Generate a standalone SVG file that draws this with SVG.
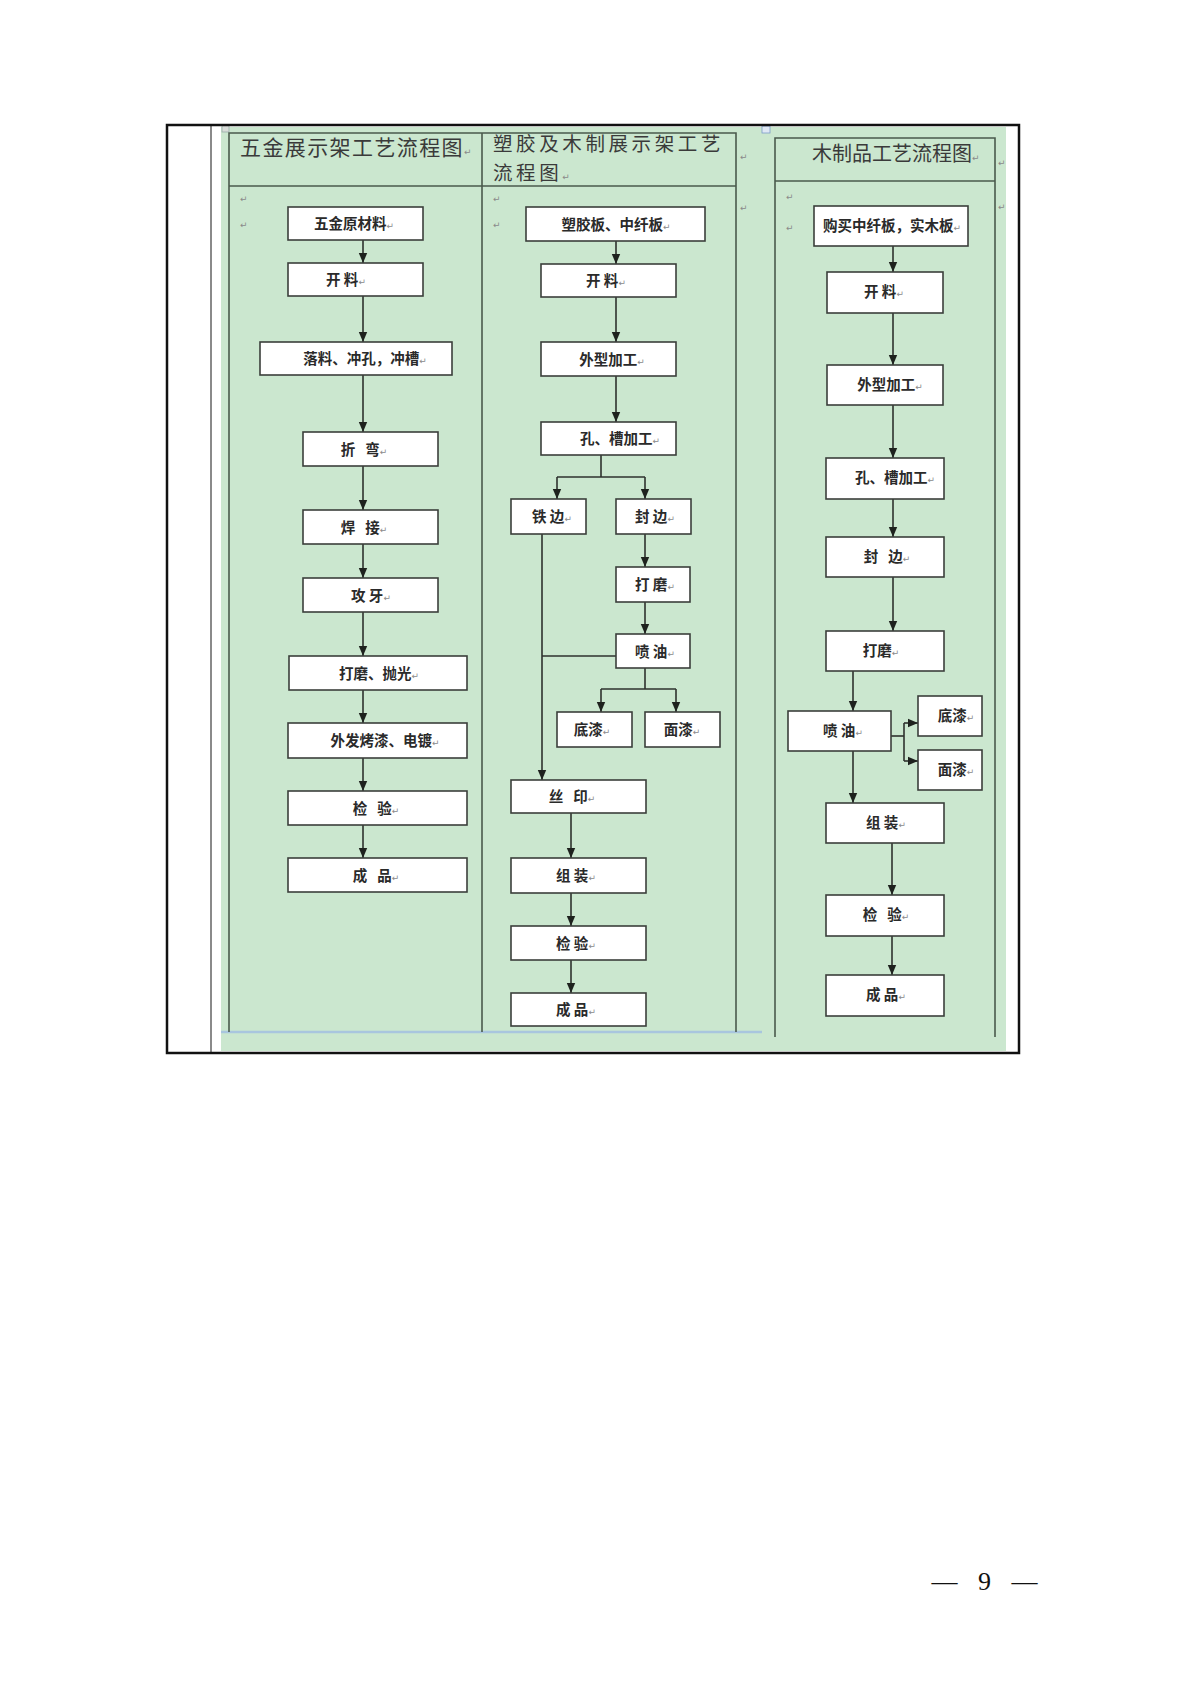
<svg xmlns="http://www.w3.org/2000/svg" width="1190" height="1683" viewBox="0 0 1190 1683">
<style>
.box{fill:#ffffff;stroke:#3b3f3b;stroke-width:1.6}
.t{font-family:"Noto Sans CJK SC","Noto Sans CJK JP",sans-serif;font-size:14.5px;font-weight:bold;fill:#2a2a2a;text-anchor:middle}
.h{font-family:"Noto Sans CJK SC","Noto Sans CJK JP",sans-serif;font-size:21px;fill:#3a3a3a}
.pm{font-family:"DejaVu Sans",sans-serif;font-size:9px;font-weight:normal;fill:#8a8a8a;letter-spacing:0}
.tl{stroke:#4a5a4c;stroke-width:1.6;fill:none}
.c{stroke:#2e322e;stroke-width:1.6;fill:none}
.ca{stroke:#2e322e;stroke-width:1.6;fill:none;marker-end:url(#ah)}
</style>
<defs>
<marker id="ah" markerUnits="userSpaceOnUse" markerWidth="10" markerHeight="10" viewBox="0 0 10 10" refX="10" refY="5" orient="auto">
<path d="M0,0.8 L10,5 L0,9.2 Z" fill="#1e221e"/>
</marker>
</defs>
<rect width="1190" height="1683" fill="#ffffff"/>
<g id="frame">
<rect x="221" y="127" width="785" height="924" fill="#cbe7cf"/>
<line x1="221" y1="1032" x2="762" y2="1032" stroke="#a9c6de" stroke-width="2.5"/>
<rect x="222" y="125" width="7" height="7" fill="#d8dcd8" stroke="#9aa" stroke-width="0.8"/>
<rect x="762" y="126" width="8" height="7" fill="#dfe8f4" stroke="#7a9cc8" stroke-width="0.8"/>
<line x1="211" y1="125" x2="211" y2="1053" stroke="#8a8a8a" stroke-width="2"/>
<rect x="167" y="125" width="852" height="928" fill="none" stroke="#111" stroke-width="2.5"/>
<polyline class="tl" points="229,1032 229,133 736,133 736,1032"/>
<line class="tl" x1="229" y1="186" x2="736" y2="186"/>
<line class="tl" x1="482" y1="133" x2="482" y2="1032"/>
<polyline class="tl" points="775,1037 775,138 995,138 995,1037"/>
<line class="tl" x1="775" y1="181" x2="995" y2="181"/>
</g>
<g id="headers">
<text class="h" x="240" y="155" letter-spacing="1.4">五金展示架工艺流程图<tspan class="pm">↵</tspan></text>
<text class="h" x="493" y="151" style="font-size:19.5px" letter-spacing="3.6">塑胶及木制展示架工艺</text>
<text class="h" x="493" y="179.5" style="font-size:19.5px" letter-spacing="3.6">流程图<tspan class="pm">↵</tspan></text>
<text class="h" x="812" y="161" style="font-size:20px">木制品工艺流程图<tspan class="pm">↵</tspan></text>
<text class="pm" x="240" y="202">↵</text>
<text class="pm" x="240" y="228">↵</text>
<text class="pm" x="493" y="202">↵</text>
<text class="pm" x="493" y="228">↵</text>
<text class="pm" x="740" y="160">↵</text>
<text class="pm" x="740" y="211">↵</text>
<text class="pm" x="786" y="200">↵</text>
<text class="pm" x="786" y="231">↵</text>
<text class="pm" x="998" y="166">↵</text>
<text class="pm" x="998" y="210">↵</text>
</g>
<g id="connectors">
<line class="ca" x1="363" y1="240" x2="363" y2="263"/>
<line class="ca" x1="363" y1="296" x2="363" y2="342"/>
<line class="ca" x1="363" y1="375" x2="363" y2="432"/>
<line class="ca" x1="363" y1="466" x2="363" y2="510"/>
<line class="ca" x1="363" y1="544" x2="363" y2="578"/>
<line class="ca" x1="363" y1="612" x2="363" y2="656"/>
<line class="ca" x1="363" y1="690" x2="363" y2="723"/>
<line class="ca" x1="363" y1="758" x2="363" y2="791"/>
<line class="ca" x1="363" y1="825" x2="363" y2="858"/>
<line class="ca" x1="616" y1="241" x2="616" y2="264"/>
<line class="ca" x1="616" y1="297" x2="616" y2="342"/>
<line class="ca" x1="616" y1="376" x2="616" y2="422"/>
<line class="c" x1="601" y1="455" x2="601" y2="477"/>
<line class="c" x1="557" y1="477" x2="645" y2="477"/>
<line class="ca" x1="557" y1="477" x2="557" y2="499"/>
<line class="ca" x1="645" y1="477" x2="645" y2="499"/>
<line class="ca" x1="645" y1="534" x2="645" y2="567"/>
<line class="ca" x1="645" y1="602" x2="645" y2="634"/>
<line class="c" x1="645" y1="668" x2="645" y2="689"/>
<line class="c" x1="601" y1="689" x2="676" y2="689"/>
<line class="ca" x1="601" y1="689" x2="601" y2="712"/>
<line class="ca" x1="676" y1="689" x2="676" y2="712"/>
<line class="ca" x1="542" y1="534" x2="542" y2="780"/>
<line class="c" x1="542" y1="656" x2="616" y2="656"/>
<line class="ca" x1="571" y1="813" x2="571" y2="858"/>
<line class="ca" x1="571" y1="893" x2="571" y2="926"/>
<line class="ca" x1="571" y1="960" x2="571" y2="993"/>
<line class="ca" x1="893" y1="246" x2="893" y2="272"/>
<line class="ca" x1="893" y1="313" x2="893" y2="365"/>
<line class="ca" x1="893" y1="405" x2="893" y2="458"/>
<line class="ca" x1="893" y1="499" x2="893" y2="537"/>
<line class="ca" x1="893" y1="577" x2="893" y2="631"/>
<line class="ca" x1="853" y1="671" x2="853" y2="711"/>
<line class="ca" x1="853" y1="751" x2="853" y2="803"/>
<line class="c" x1="891" y1="736" x2="904" y2="736"/>
<line class="c" x1="904" y1="723" x2="904" y2="761"/>
<line class="ca" x1="904" y1="723" x2="918" y2="723"/>
<line class="ca" x1="904" y1="761" x2="918" y2="761"/>
<line class="ca" x1="892" y1="843" x2="892" y2="895"/>
<line class="ca" x1="892" y1="936" x2="892" y2="975"/>
</g>
<g id="n1-1"><rect class="box" x="288" y="207" width="135" height="33"/><text class="t" x="354" y="229">五金原材料<tspan class="pm">↵</tspan></text></g>
<g id="n1-2"><rect class="box" x="288" y="263" width="135" height="33"/><text class="t" x="346" y="285" xml:space="preserve">开 料<tspan class="pm">↵</tspan></text></g>
<g id="n1-3"><rect class="box" x="260" y="342" width="192" height="33"/><text class="t" x="365" y="364">落料、冲孔，冲槽<tspan class="pm">↵</tspan></text></g>
<g id="n1-4"><rect class="box" x="303" y="432" width="135" height="34"/><text class="t" x="364" y="455" xml:space="preserve">折   弯<tspan class="pm">↵</tspan></text></g>
<g id="n1-5"><rect class="box" x="303" y="510" width="135" height="34"/><text class="t" x="364" y="533" xml:space="preserve">焊   接<tspan class="pm">↵</tspan></text></g>
<g id="n1-6"><rect class="box" x="303" y="578" width="135" height="34"/><text class="t" x="371" y="601" xml:space="preserve">攻 牙<tspan class="pm">↵</tspan></text></g>
<g id="n1-7"><rect class="box" x="289" y="656" width="178" height="34"/><text class="t" x="379" y="679">打磨、抛光<tspan class="pm">↵</tspan></text></g>
<g id="n1-8"><rect class="box" x="288" y="723" width="179" height="35"/><text class="t" x="385" y="746">外发烤漆、电镀<tspan class="pm">↵</tspan></text></g>
<g id="n1-9"><rect class="box" x="288" y="791" width="179" height="34"/><text class="t" x="376" y="814" xml:space="preserve">检   验<tspan class="pm">↵</tspan></text></g>
<g id="n1-10"><rect class="box" x="288" y="858" width="179" height="34"/><text class="t" x="376" y="881" xml:space="preserve">成   品<tspan class="pm">↵</tspan></text></g>
<g id="n2-1"><rect class="box" x="526" y="207" width="179" height="34"/><text class="t" x="616" y="230">塑胶板、中纤板<tspan class="pm">↵</tspan></text></g>
<g id="n2-2"><rect class="box" x="541" y="264" width="135" height="33"/><text class="t" x="606" y="286" xml:space="preserve">开 料<tspan class="pm">↵</tspan></text></g>
<g id="n2-3"><rect class="box" x="541" y="342" width="135" height="34"/><text class="t" x="612" y="365">外型加工<tspan class="pm">↵</tspan></text></g>
<g id="n2-4"><rect class="box" x="541" y="422" width="135" height="33"/><text class="t" x="620" y="444">孔、槽加工<tspan class="pm">↵</tspan></text></g>
<g id="n2-5"><rect class="box" x="511" y="499" width="75" height="35"/><text class="t" x="552" y="522" xml:space="preserve">铁 边<tspan class="pm">↵</tspan></text></g>
<g id="n2-6"><rect class="box" x="616" y="499" width="75" height="35"/><text class="t" x="655" y="522" xml:space="preserve">封 边<tspan class="pm">↵</tspan></text></g>
<g id="n2-7"><rect class="box" x="616" y="567" width="74" height="35"/><text class="t" x="655" y="590" xml:space="preserve">打 磨<tspan class="pm">↵</tspan></text></g>
<g id="n2-8"><rect class="box" x="616" y="634" width="74" height="34"/><text class="t" x="655" y="657" xml:space="preserve">喷 油<tspan class="pm">↵</tspan></text></g>
<g id="n2-9"><rect class="box" x="557" y="712" width="75" height="35"/><text class="t" x="592" y="735">底漆<tspan class="pm">↵</tspan></text></g>
<g id="n2-10"><rect class="box" x="645" y="712" width="75" height="35"/><text class="t" x="682" y="735">面漆<tspan class="pm">↵</tspan></text></g>
<g id="n2-11"><rect class="box" x="511" y="780" width="135" height="33"/><text class="t" x="572" y="802" xml:space="preserve">丝   印<tspan class="pm">↵</tspan></text></g>
<g id="n2-12"><rect class="box" x="511" y="858" width="135" height="35"/><text class="t" x="576" y="881" xml:space="preserve">组 装<tspan class="pm">↵</tspan></text></g>
<g id="n2-13"><rect class="box" x="511" y="926" width="135" height="34"/><text class="t" x="576" y="949" xml:space="preserve">检 验<tspan class="pm">↵</tspan></text></g>
<g id="n2-14"><rect class="box" x="511" y="993" width="135" height="33"/><text class="t" x="576" y="1015" xml:space="preserve">成 品<tspan class="pm">↵</tspan></text></g>
<g id="n3-1"><rect class="box" x="814" y="206" width="154" height="40"/><text class="t" x="892" y="231">购买中纤板，实木板<tspan class="pm">↵</tspan></text></g>
<g id="n3-2"><rect class="box" x="827" y="272" width="116" height="41"/><text class="t" x="884" y="297" xml:space="preserve">开 料<tspan class="pm">↵</tspan></text></g>
<g id="n3-3"><rect class="box" x="827" y="365" width="116" height="40"/><text class="t" x="890" y="390">外型加工<tspan class="pm">↵</tspan></text></g>
<g id="n3-4"><rect class="box" x="826" y="458" width="118" height="41"/><text class="t" x="895" y="483">孔、槽加工<tspan class="pm">↵</tspan></text></g>
<g id="n3-5"><rect class="box" x="826" y="537" width="118" height="40"/><text class="t" x="887" y="562" xml:space="preserve">封   边<tspan class="pm">↵</tspan></text></g>
<g id="n3-6"><rect class="box" x="826" y="631" width="118" height="40"/><text class="t" x="881" y="656">打磨<tspan class="pm">↵</tspan></text></g>
<g id="n3-7"><rect class="box" x="788" y="711" width="103" height="40"/><text class="t" x="843" y="736" xml:space="preserve">喷 油<tspan class="pm">↵</tspan></text></g>
<g id="n3-8"><rect class="box" x="918" y="696" width="64" height="40"/><text class="t" x="956" y="721">底漆<tspan class="pm">↵</tspan></text></g>
<g id="n3-9"><rect class="box" x="918" y="750" width="64" height="40"/><text class="t" x="956" y="775">面漆<tspan class="pm">↵</tspan></text></g>
<g id="n3-10"><rect class="box" x="826" y="803" width="118" height="40"/><text class="t" x="886" y="828" xml:space="preserve">组 装<tspan class="pm">↵</tspan></text></g>
<g id="n3-11"><rect class="box" x="826" y="895" width="118" height="41"/><text class="t" x="886" y="920" xml:space="preserve">检   验<tspan class="pm">↵</tspan></text></g>
<g id="n3-12"><rect class="box" x="826" y="975" width="118" height="41"/><text class="t" x="886" y="1000" xml:space="preserve">成 品<tspan class="pm">↵</tspan></text></g>
<g id="page-number"><text x="988" y="1590" font-family="Liberation Serif, serif" font-size="26" fill="#111" text-anchor="middle" letter-spacing="7" xml:space="preserve">— 9 —</text></g>
</svg>
